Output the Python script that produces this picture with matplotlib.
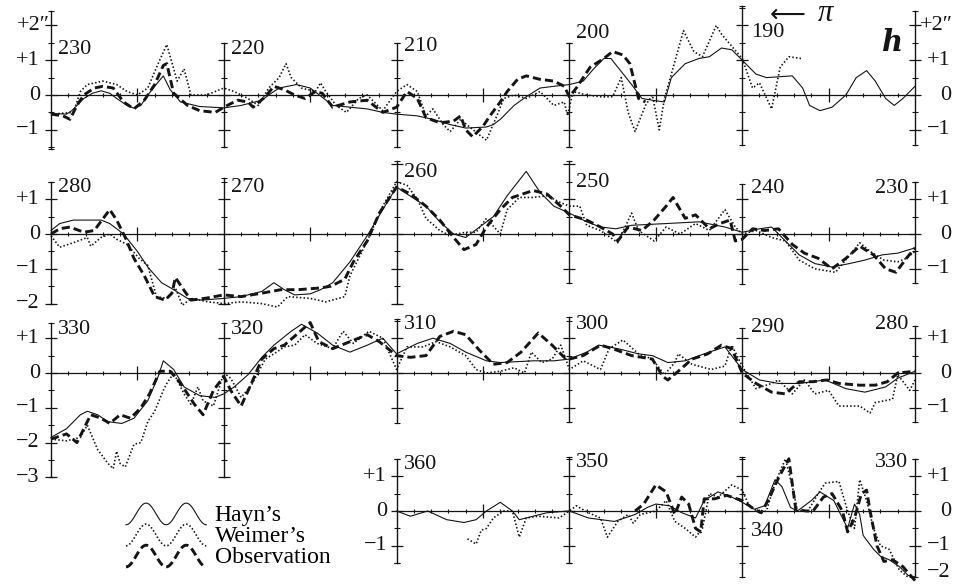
import numpy as np
import matplotlib
matplotlib.use('Agg')
import matplotlib.pyplot as plt
from matplotlib.legend_handler import HandlerLine2D
from matplotlib.lines import Line2D

plt.rcParams['font.family'] = ['Liberation Serif', 'DejaVu Serif']

# longitude (deg), deviation (arcsec)
hayn_1 = [(230, -0.53), (229.1, -0.55), (228.8, -0.45), (228.1, -0.1), (227.6, 0.05), (227.1, 0.12),
          (226.6, 0.05), (226.2, -0.1), (225.6, -0.3), (225.2, -0.38), (224.8, -0.3), (224.4, 0.0),
          (224.0, 0.25), (223.5, 0.55), (223.1, 0.15), (222.5, -0.2), (221.4, -0.33), (220, -0.37),
          (219, -0.3), (217.8, -0.15), (217.4, 0.0), (216.8, 0.2), (215.8, 0.3), (215, 0.2),
          (214.6, 0.05), (213.7, -0.3), (212.7, -0.35), (211.7, -0.4), (210.8, -0.5), (210, -0.55),
          (208.8, -0.6), (207.9, -0.7), (206.9, -0.85), (206, -0.95), (204.8, -0.92), (204.4, -0.85),
          (204, -0.7), (203.2, -0.3), (202.5, -0.05), (201.7, 0.2), (200.9, 0.25), (200, 0.3),
          (199.2, 0.4), (198.6, 0.75), (198, 1.05), (197.6, 1.05), (197.2, 0.8), (196.4, 0.3),
          (195.8, -0.1), (195.2, -0.15), (194.5, -0.2), (194.1, 0.5), (193.3, 0.9), (192.5, 1.05),
          (191.9, 1.1), (191.2, 1.35), (190.6, 1.3), (190, 1.0), (189.2, 0.6), (188.6, 0.5),
          (187.1, 0.55), (186.5, 0.2), (186.1, -0.3), (185.5, -0.45), (184.8, -0.35), (184, 0.0),
          (183.4, 0.5), (182.8, 0.7), (182.3, 0.4), (181.7, -0.1), (181.2, -0.3), (180.7, -0.1),
          (180, 0.25)]
weimer_1 = [(230, -0.55), (228.7, -0.5), (228.3, 0.1), (227.9, 0.3), (227, 0.4), (226.2, 0.3),
            (225.6, 0.1), (225, 0.0), (224.4, 0.2), (223.8, 0.9), (223.3, 1.45), (222.7, 0.4),
            (222.3, 0.75), (221.9, 0.0), (221, 0.0), (220, 0.2), (219.4, 0.1), (218.6, -0.1),
            (218, -0.3), (217.4, 0.2), (216.8, 0.5), (216.4, 0.9), (216.1, 0.5), (215.5, 0.2),
            (214.7, 0.1), (214.4, 0.35), (214.1, 0.1), (213.5, -0.3), (212.9, -0.5), (212.2, -0.1),
            (211.7, 0.0), (210.8, -0.45), (210, 0.1), (209.4, 0.3), (208.8, 0.1), (208.3, -0.6),
            (207.9, -0.4), (207.3, -0.85), (206.9, -1.05), (206.3, -0.7), (205.7, -0.95),
            (205.2, -1.15), (204.8, -1.3), (204.2, -0.6), (203.8, -0.1), (203.2, 0.0), (202.5, -0.1),
            (201.7, 0.1), (200.9, -0.3), (200.3, -0.2), (200.1, -0.6), (199.8, 0.1), (199, 0.0),
            (198.2, -0.05), (197.5, -0.05), (197, 0.5), (196.6, -0.5), (196.2, -1.05), (195.6, -0.3),
            (195.2, 0.0), (194.8, -1.0), (194.5, -0.1), (194.1, 0.6), (193.4, 1.85), (192.8, 1.25),
            (192.3, 1.1), (191.5, 2.0), (191.2, 1.75), (190.6, 1.4), (190, 1.05), (189.4, 0.2),
            (189, 0.35), (188.3, -0.4), (187.8, 0.8), (187.3, 1.1), (186.6, 1.05)]
obs_1 = [(230, -0.55), (229.3, -0.6), (228.9, -0.7), (228.5, -0.3), (228.1, 0.0), (227.5, 0.2),
         (227, 0.25), (226.4, 0.2), (225.8, -0.2), (225.2, -0.4), (224.6, -0.15), (224, 0.3),
         (223.5, 0.85), (223.3, 0.9), (222.9, 0.05), (222.1, -0.3), (221.4, -0.45), (220.5, -0.5),
         (219.8, -0.3), (219.2, -0.15), (218.6, -0.2), (218.3, -0.35), (217.6, -0.05), (217.1, 0.25),
         (216.5, 0.15), (215.9, 0.0), (215.3, -0.1), (214.7, 0.1), (214.3, 0.05), (213.7, -0.35),
         (212.7, -0.2), (211.7, -0.15), (210.8, -0.5), (210, -0.35), (209.4, 0.1), (208.8, -0.1),
         (208.3, -0.65), (207.5, -0.8), (206.7, -0.75), (206.3, -0.6), (206, -1.0), (205.6, -1.2),
         (205, -0.9), (204.6, -0.6), (204, -0.2), (203.6, 0.1), (203, 0.45), (202.5, 0.55),
         (201.7, 0.45), (200.9, 0.4), (200.3, 0.25), (200, -0.05), (199.6, 0.2), (198.8, 0.8),
         (198, 1.05), (197.5, 1.25), (196.9, 1.15), (196.5, 0.9), (196, -0.1), (195.6, -0.2)]

hayn_2 = [(280, 0.1), (279.5, 0.3), (278.7, 0.4), (277.9, 0.4), (277.1, 0.4), (276.6, 0.3),
          (275.8, 0.0), (275, -0.5), (274.4, -0.95), (273.6, -1.4), (272.9, -1.6), (272.1, -1.85),
          (271.3, -1.9), (270, -1.85), (269, -1.8), (267.8, -1.65), (267.1, -1.4), (266.5, -1.6),
          (265.9, -1.75), (265, -1.72), (264.4, -1.6), (263.7, -1.4), (262.7, -0.8), (261.7, -0.05),
          (260.8, 0.7), (260, 1.35), (259.4, 1.15), (258.3, 0.8), (257.5, 0.35), (256.7, 0.0),
          (256, -0.1), (255.2, 0.2), (254.4, 0.5), (253.6, 1.1), (252.5, 1.8), (251.7, 1.2),
          (250.9, 0.8), (250, 0.6), (249, 0.35), (248.2, 0.2), (247.3, 0.15), (246.4, 0.25),
          (244.4, 0.3), (242.5, 0.35), (241, 0.2), (240, 0.05), (239, 0.15), (238.3, 0.2),
          (237.5, -0.2), (236.7, -0.6), (235.8, -0.85), (234.8, -0.95), (233.8, -0.85),
          (232.9, -0.75), (231.9, -0.6), (231, -0.55), (230, -0.4)]
weimer_2 = [(280, -0.05), (279.5, -0.38), (278.7, -0.25), (277.9, -0.1), (277.7, -0.35), (277.1, -0.1),
            (276.6, 0.0), (276.2, -0.15), (275.6, -0.3), (274.9, -0.7), (274.4, -0.9), (273.9, -1.8),
            (273.3, -1.85), (272.8, -1.55), (272.4, -2.05), (271.9, -1.85), (270.9, -1.95), (270, -2.0),
            (269, -1.95), (267.8, -2.0), (266.9, -2.1), (266.3, -1.8), (265, -1.85), (264.1, -1.95),
            (263, -1.8), (262.7, -1.2), (261.7, -0.2), (260.8, 0.8), (260, 1.5), (259.4, 1.4),
            (258.8, 1.0), (258.3, 0.45), (257.5, 0.1), (257.1, 0.0), (256.5, 0.0), (256, 0.05),
            (255.4, 0.05), (254.8, 0.45), (254, 0.0), (253.6, 0.7), (252.9, 1.05), (252.1, 1.05),
            (251.3, 1.1), (250.5, 0.9), (250, 0.8), (249.4, 0.8), (249, 0.25), (248.2, 0.1),
            (247.2, -0.25), (246.4, 0.6), (246, 0.1), (245.1, -0.2), (244.4, 0.2), (243.6, 0.0),
            (242.7, 0.3), (241.9, 0.1), (241, 0.7), (240.4, 0.2), (240, 0.0), (239.2, 0.1),
            (238.3, -0.1), (237.5, -0.2), (236.7, -0.75), (235.8, -1.0), (234.6, -1.1), (233.6, -0.5),
            (233.2, -0.25), (232.6, -0.5), (231.8, -0.75), (231, -0.8), (230.5, -0.7), (230, -0.5)]
obs_2 = [(280, 0.0), (279.5, 0.15), (278.9, 0.2), (278.1, 0.05), (277.5, 0.1), (276.9, 0.5),
         (276.6, 0.7), (276.2, 0.4), (275.7, -0.1), (275.2, -0.7), (274.6, -1.2), (274, -1.8),
         (273.4, -1.9), (273, -1.7), (272.8, -1.25), (272.4, -1.55), (271.9, -1.9), (271.1, -1.85),
         (270, -1.75), (269, -1.8), (267.8, -1.7), (266.7, -1.6), (265.7, -1.6), (264.4, -1.55),
         (263.8, -1.5), (263, -1.3), (262.5, -0.8), (261.7, -0.2), (261, 0.6), (260, 1.35),
         (259.2, 1.15), (258.3, 0.8), (257.5, 0.4), (256.7, -0.1), (256.1, -0.45), (255.4, -0.3),
         (254.8, 0.2), (254, 0.7), (253.3, 1.05), (252.1, 1.25), (251.3, 1.15), (250.5, 0.8),
         (250, 0.55), (249, 0.4), (248.2, 0.2), (247.5, 0.0), (247.2, -0.2), (246.6, 0.2),
         (245.8, 0.1), (245.1, 0.4), (244.4, 0.8), (244, 1.05), (243.3, 0.45), (242.7, 0.55),
         (241.9, 0.15), (241.3, 0.3), (240.7, 0.4), (240.4, -0.2), (240, -0.15), (239.4, 0.15),
         (238.7, 0.1), (237.9, 0.15), (237.1, -0.3), (236.4, -0.55), (235.6, -0.7), (234.8, -1.0),
         (234, -0.7), (233.2, -0.35), (232.4, -0.6), (231.7, -1.0), (231.1, -1.1), (230.5, -0.7),
         (230, -0.4)]

hayn_3 = [(330, -1.85), (329.1, -1.6), (328.3, -1.2), (327.9, -1.1), (327.3, -1.2), (326.7, -1.4),
          (325.9, -1.45), (325.2, -1.3), (324.4, -0.8), (323.8, -0.1), (323.5, 0.35), (322.9, 0.1),
          (322.3, -0.4), (321.4, -0.65), (320.5, -0.7), (320, -0.6), (319.4, -0.4), (318.6, -0.05),
          (317.8, 0.45), (317.1, 0.8), (316.1, 1.2), (315.5, 1.4), (314.6, 1.15), (313.7, 0.8),
          (312.7, 0.6), (311.7, 0.8), (310.8, 1.0), (310, 0.55), (308.8, 0.85), (307.9, 1.0),
          (306.9, 0.85), (306, 0.6), (304.8, 0.35), (304, 0.3), (302.1, 0.35), (300.9, 0.35),
          (300, 0.4), (299, 0.6), (298.3, 0.8), (297.2, 0.7), (296, 0.55), (295.2, 0.5),
          (294.3, 0.3), (293.3, 0.35), (292.2, 0.55), (291, 0.75), (290, 0.1), (289, -0.2),
          (287.9, -0.3), (286.7, -0.3), (285.2, -0.2), (284, -0.45), (282.9, -0.55), (281.7, -0.4),
          (281, -0.15), (280, 0.05)]
weimer_3 = [(330, -1.9), (329.1, -1.95), (328.3, -1.85), (327.9, -1.5), (327.3, -2.2), (326.7, -2.6),
            (326.4, -2.75), (326.2, -2.25), (326, -2.6), (325.7, -2.7), (325.2, -2.05), (324.8, -2.0),
            (324.4, -1.4), (324, -1.1), (323.5, -0.5), (323.3, -0.3), (322.9, 0.0), (322.3, -0.6),
            (321.9, -0.9), (321.5, -0.4), (321.2, -0.8), (320.6, -0.95), (320, 0.0), (319.6, -0.15),
            (319, -0.7), (318.4, -0.35), (317.6, 0.4), (317.1, 0.55), (316.5, 0.75), (315.9, 0.8),
            (315.3, 1.1), (314.6, 0.85), (313.7, 0.7), (313.1, 1.2), (312.5, 0.85), (311.6, 1.2),
            (310.8, 1.0), (310, 0.1), (309.4, 0.75), (308.5, 0.75), (307.7, 0.9), (306.9, 0.75),
            (306, 0.5), (305.4, 0.1), (304.8, 0.0), (304, 0.05), (303.2, 0.15), (302.6, 0.0),
            (302.2, 0.6), (301.6, 0.3), (301, 0.4), (300.5, 0.8), (300, 0.1), (299.2, 0.35),
            (298.2, 0.1), (297.7, 0.7), (296.9, 0.95), (296, 0.55), (295.2, 0.4), (294.5, -0.05),
            (293.9, 0.3), (293.7, 0.55), (292.9, 0.25), (291.8, 0.1), (291, 0.2), (290.6, 0.8),
            (290, 0.2), (289.2, -0.45), (288.3, -0.3), (287.9, -0.2), (287.1, -0.6), (286.4, -0.2),
            (285.8, -0.6), (285, -0.5), (284.4, -0.95), (283.2, -0.95), (282.6, -1.15), (282.3, -0.85),
            (281.3, -0.75), (281, -0.05), (280.3, -0.5), (280, -0.2)]
obs_3 = [(330, -1.9), (329.1, -1.75), (328.5, -2.0), (328.1, -1.6), (327.7, -1.2), (327.1, -1.3),
         (326.6, -1.45), (326, -1.2), (325.4, -1.3), (324.8, -1.0), (324.3, -0.6), (323.7, 0.05),
         (323.1, 0.05), (322.5, -0.3), (321.7, -0.9), (321.2, -1.2), (320.6, -0.5), (320, -0.1),
         (319.6, -0.5), (319, -0.95), (318.4, -0.3), (317.8, 0.4), (317.1, 0.7), (316.5, 0.8),
         (315.8, 1.1), (315, 1.45), (314.5, 0.9), (313.7, 0.7), (312.7, 0.9), (311.7, 1.1),
         (311, 0.9), (310, 0.5), (309.2, 0.45), (308.3, 0.5), (307.5, 1.05), (306.7, 1.2),
         (306, 1.1), (305.2, 0.65), (304.4, 0.25), (303.6, 0.3), (302.8, 0.6), (301.8, 1.15),
         (301, 0.8), (300.3, 0.45), (300, 0.4), (299.2, 0.5), (298.2, 0.8), (297.5, 0.7),
         (296.4, 0.5), (295.2, 0.4), (294.6, -0.1), (294.3, -0.2), (293.7, 0.05), (292.9, 0.4),
         (292, 0.55), (291.2, 0.8), (290.6, 0.7), (290, 0.0), (289.2, -0.3), (288.3, -0.55),
         (287.5, -0.6), (286.7, -0.25), (285.9, -0.25), (285.1, -0.2), (284.4, -0.3), (283.2, -0.35),
         (282.3, -0.35), (281.6, -0.25), (281, 0.0), (280, 0.05)]

hayn_4 = [(360, 0.0), (359.2, -0.15), (358.2, 0.0), (357.1, -0.25), (356.1, -0.33), (355.4, -0.25),
          (354.8, 0.0), (354, 0.25), (353.3, 0.0), (352.9, -0.25), (352.1, -0.15), (351.3, -0.05),
          (350, 0.0), (348.9, -0.2), (347.4, -0.3), (346.2, -0.1), (345.5, 0.1), (345, 0.2),
          (344.2, 0.15), (343.5, -0.05), (342.7, -0.2), (342.2, 0.3), (341.4, 0.55), (340.6, 0.4),
          (340, 0.25), (339.3, 0.05), (338.7, 0.15), (338.1, 0.9), (337.7, 0.7), (337.2, 0.1),
          (336.8, 0.0), (336, 0.3), (335.5, 0.55), (334.7, 0.3), (333.9, -0.5), (333.5, 0.2),
          (333.2, -0.1), (333, -0.7), (332.4, -1.1), (332, -1.3), (331.5, -1.4), (330.9, -1.6),
          (330.4, -1.85), (330, -1.9)]
weimer_4 = [(355.9, -0.8), (355.4, -0.95), (355.1, -0.55), (354.8, -0.5), (354.4, -0.2), (353.8, 0.0),
            (353.3, 0.0), (352.9, -0.75), (352.5, -0.2), (351.8, -0.15), (350.6, -0.2), (350, 0.0),
            (349.6, 0.15), (348.9, -0.05), (348.2, -0.2), (347.8, -0.75), (347.2, -0.3), (346.6, -0.1),
            (346.3, -0.35), (345.9, -0.1), (345, 0.0), (344.4, 0.3), (343.9, -0.3), (343.3, -0.5),
            (342.7, -0.75), (342.3, -0.5), (341.9, 0.5), (341.4, 0.4), (340.6, 0.75), (340, 0.6),
            (339.6, 0.15), (339, -0.05), (338.6, 0.0), (338.1, 0.8), (337.5, 1.5), (337.1, 0.7),
            (336.8, 0.0), (336.2, 0.0), (335.6, 0.5), (335.2, 0.8), (334.4, 0.85), (333.9, 0.0),
            (333.5, -0.5), (333.2, 0.9), (332.8, 0.3), (332.4, -0.5), (332, -1.0), (331.5, -1.1),
            (330.9, -1.7), (330.4, -1.9), (330, -1.9)]
obs_4 = [(346.2, 0.0), (345.7, 0.2), (345, 0.75), (344.4, 0.55), (343.9, -0.1), (343.5, 0.4),
         (343.1, 0.2), (342.7, -0.5), (342.4, -0.6), (342.2, 0.35), (341.6, 0.35), (340.9, 0.45),
         (340, 0.3), (339.3, 0.05), (338.9, -0.05), (338.5, 0.3), (337.9, 0.95), (337.3, 1.5),
         (336.9, 0.05), (336.3, 0.0), (335.9, 0.0), (335.3, 0.4), (334.8, 0.5), (334.2, 0.0),
         (333.9, -0.6), (333.5, -0.2), (333.1, 0.5), (332.8, 0.6), (332.6, 0.0), (332.2, -1.0),
         (331.8, -1.45), (331.3, -1.4), (330.7, -1.6), (330, -2.0)]

series_labels = ["Hayn\u2019s", "Weimer\u2019s", "Observation"]

INK = '#151515'
W, H = 964, 586
PX_DEG = 17.28     # pixels per degree of longitude
PX_UNIT = 34.8     # pixels per arcsecond
LEFT_PX = 51
FS = 16

HAYN = dict(color=INK, lw=0.8, ls='-')
WEIMER = dict(color=INK, lw=1.2, ls=(0, (0.9, 1.3)))
OBS = dict(color=INK, lw=2.1, ls=(0, (2.8, 1.4)))

fig = plt.figure(figsize=(W / 100, H / 100), dpi=100)


def panel_axes(left_lon, zero_px):
    ax = fig.add_axes([0, 0, 1, 1])
    ax.set_axis_off()
    ax.patch.set_alpha(0)
    ax.set_xlim(left_lon + LEFT_PX / PX_DEG, left_lon - (W - LEFT_PX) / PX_DEG)
    ax.set_ylim(-(H - zero_px) / PX_UNIT, zero_px / PX_UNIT)
    return ax


def draw_frame(ax, spines, z_from, z_to):
    ax.plot([z_from, z_to], [0, 0], color=INK, lw=0.9)
    degs = np.arange(z_to + 1, z_from)
    small = degs[degs % 5 != 0]
    big = degs[(degs % 5 == 0) & (degs % 10 != 0)]
    ax.plot(small, np.zeros(len(small)), ls='none', marker='|', ms=3, mew=0.8, color=INK)
    ax.plot(big, np.zeros(len(big)), ls='none', marker='|', ms=10, mew=0.9, color=INK)
    for lon, lo, hi in spines:
        ax.plot([lon, lon], [lo, hi], color=INK, lw=1.0)
        ticks = np.arange(np.ceil(lo * 2) / 2, hi + 1e-6, 0.5)
        whole = ticks[ticks % 1 == 0]
        half = ticks[ticks % 1 != 0]
        ax.plot(np.full(len(whole), lon), whole, ls='none', marker='_', ms=8, mew=0.9, color=INK)
        ax.plot(np.full(len(half), lon), half, ls='none', marker='_', ms=5, mew=0.8, color=INK)
        ax.plot([lon, lon], [lo, hi], ls='none', marker='_', ms=5, mew=0.8, color=INK)


def draw_series(ax, hayn, weimer, obs):
    handles = []
    for data, style, lab in zip((hayn, weimer, obs), (HAYN, WEIMER, OBS), series_labels):
        arr = np.array(data)
        h, = ax.plot(arr[:, 0], arr[:, 1], label=lab, **style)
        handles.append(h)
    return handles


def lon_labels(ax, items):
    for txt, lon, y, ha in items:
        ax.text(lon, y, txt, ha=ha, va='center', fontsize=FS, color=INK)


def y_labels(ax, lon, vals, ha):
    for v, txt in vals:
        ax.text(lon, v, txt, ha=ha, va='center', fontsize=FS, color=INK)


# panel 1 : 230 -> 180
ax1 = panel_axes(230, 95)
draw_frame(ax1, [(230, -1.55, 2.4), (220, -1.5, 1.5), (210, -1.5, 1.5), (200, -1.5, 1.5),
                 (190, -1.45, 2.55), (180, -1.45, 2.4)], 230, 180)
draw_series(ax1, hayn_1, weimer_1, obs_1)
lon_labels(ax1, [('230', 229.6, 1.3, 'left'), ('220', 219.6, 1.3, 'left'), ('210', 209.6, 1.38, 'left'),
                 ('200', 199.6, 1.78, 'left'), ('190', 189.5, 1.8, 'left')])
y_labels(ax1, 230.05, [(2, '+2\u2033')], 'right')
y_labels(ax1, 230.65, [(1, '+1'), (0, '0'), (-1, '\u22121')], 'right')
y_labels(ax1, 180 - 0.3, [(2, '+2\u2033')], 'left')
y_labels(ax1, 180 - 2.08, [(1, '+1'), (0, '0'), (-1, '\u22121')], 'right')
ax1.text(181.3, 1.5, 'h', fontsize=21, style='italic', fontweight='bold',
         family=['DejaVu Serif'], ha='center', va='center', color=INK)
ax1.text(188.4, 2.3, '\u27f5', fontsize=18, family=['DejaVu Sans'], ha='left', va='center', color=INK)
ax1.text(185.6, 2.33, '\u03c0', fontsize=22, style='italic', ha='left', va='center', color=INK)

# panel 2 : 280 -> 230
ax2 = panel_axes(280, 234)
draw_frame(ax2, [(280, -2.0, 1.5), (270, -2.0, 1.6), (260, -2.0, 2.1), (250, -1.4, 2.1),
                 (240, -1.45, 1.45), (230, -1.4, 1.5)], 280, 230)
draw_series(ax2, hayn_2, weimer_2, obs_2)
lon_labels(ax2, [('280', 279.6, 1.35, 'left'), ('270', 269.6, 1.35, 'left'), ('260', 259.6, 1.78, 'left'),
                 ('250', 249.6, 1.47, 'left'), ('240', 239.5, 1.32, 'left'), ('230', 230.4, 1.32, 'right')])
y_labels(ax2, 280.65, [(1, '+1'), (0, '0'), (-1, '\u22121'), (-2, '\u22122')], 'right')
y_labels(ax2, 230 - 2.08, [(1, '+1'), (0, '0'), (-1, '\u22121')], 'right')

# panel 3 : 330 -> 280
ax3 = panel_axes(330, 373)
draw_frame(ax3, [(330, -3.0, 1.45), (320, -3.0, 1.45), (310, -1.45, 1.55), (300, -1.4, 1.6),
                 (290, -1.4, 1.3), (280, -1.4, 1.35)], 330, 280)
draw_series(ax3, hayn_3, weimer_3, obs_3)
lon_labels(ax3, [('330', 329.6, 1.26, 'left'), ('320', 319.6, 1.26, 'left'), ('310', 309.6, 1.4, 'left'),
                 ('300', 299.6, 1.4, 'left'), ('290', 289.5, 1.3, 'left'), ('280', 280.4, 1.38, 'right')])
y_labels(ax3, 330.65, [(1, '+1'), (0, '0'), (-1, '\u22121'), (-2, '\u22122'), (-3, '\u22123')], 'right')
y_labels(ax3, 280 - 2.08, [(1, '+1'), (0, '0'), (-1, '\u22121')], 'right')

# panel 4 : 360 -> 330
ax4 = panel_axes(380, 511)
draw_frame(ax4, [(360, -1.5, 1.5), (350, -1.5, 1.55), (340, -1.9, 1.55), (330, -1.9, 1.5)], 360, 330)
handles = draw_series(ax4, hayn_4, weimer_4, obs_4)
lon_labels(ax4, [('360', 359.6, 1.35, 'left'), ('350', 349.6, 1.38, 'left'), ('340', 339.5, -0.6, 'left'),
                 ('330', 330.4, 1.38, 'right')])
y_labels(ax4, 360.55, [(1, '+1'), (0, '0'), (-1, '\u22121')], 'right')
y_labels(ax4, 330 - 2.08, [(1, '+1'), (0, '0'), (-1, '\u22121'), (-1.78, '\u22122')], 'right')


class WaveHandler(HandlerLine2D):
    def create_artists(self, legend, orig_handle, xdescent, ydescent, width, height, fontsize, trans):
        t = np.linspace(0, 1, 80)
        x = -xdescent + width * t
        y = -ydescent + height * (0.45 - 0.6 * np.cos(4 * np.pi * t))
        line = Line2D(x, y)
        self.update_prop(line, orig_handle, legend)
        line.set_transform(trans)
        return [line]


fig.legend(handles=handles, labels=series_labels, loc='upper left',
           bbox_to_anchor=(126 / W, 1 - 504 / H), bbox_transform=fig.transFigure,
           frameon=False, borderpad=0, borderaxespad=0, fontsize=17,
           handlelength=3.4, handleheight=0.8, handletextpad=0.35, labelspacing=-0.05,
           handler_map={Line2D: WaveHandler()})

fig.savefig('out.png', dpi=100)
